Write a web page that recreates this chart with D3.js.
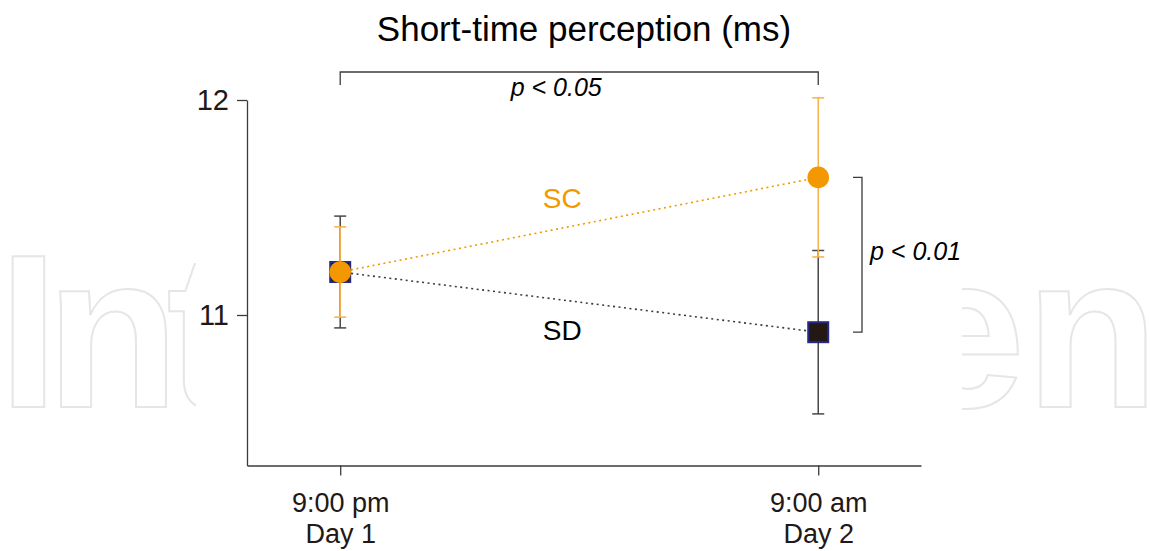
<!DOCTYPE html>
<html>
<head>
<meta charset="utf-8">
<script src="https://cdn.jsdelivr.net/npm/d3@7"></script>
<style>
  body { margin:0; background:#fff; }
  svg { display:block; font-family:"Liberation Sans", Arial, Helvetica, sans-serif; }
</style>
</head>
<body>
<svg id="graph"></svg>
<script>
// categories (x) and tick labels
let timeLabels = ["9:00 pm", "9:00 am"];
let dayLabels = ["Day 1", "Day 2"];
let yTicks = [11, 12];

// series: SC (control) and SD (sleep deprived), mean and error
let scMean = [11.20, 11.64];
let scErr = [0.21, 0.37];
let sdMean = [11.20, 10.92];
let sdErr = [0.26, 0.38];

let seriesNames = ["SC", "SD"];
let sigLabels = ["p < 0.05", "p < 0.01"];

let w = 1150;
let h = 551;

let orange = "#f39800";
let orangeBar = "#f7b04a";
let dark = "#231815";

let graph = d3.select("#graph").attr("width", w).attr("height", h);

// watermark behind the chart
let wm = graph.append("g")
    .style("font-size", "219px")
    .style("font-weight", "bold")
    .style("fill", "none")
    .style("stroke", "#e6e6e6")
    .style("stroke-width", 2);
wm.append("text").text("Int").attr("x", -2).attr("y", 407).style("letter-spacing", "-13px");
wm.append("text").text("en").attr("x", 1159).attr("y", 407).attr("text-anchor", "end");
graph.append("rect").attr("x", 196).attr("y", 0).attr("width", 766).attr("height", h).style("fill", "#fff");

// scales
let xscale = d3.scaleLinear().domain([-0.195, 1.215]).range([247, 921]);
let yscale = d3.scaleLinear().domain([10.3, 12]).range([465.5, 100]);

// axes
let yaxis = d3.axisLeft(yscale).tickValues(yTicks).tickFormat(d3.format("d"))
    .tickSize(10).tickSizeOuter(0).tickPadding(8);
let yaxisg = graph.append("g")
    .attr("transform", `translate(${xscale.range()[0]},0)`)
    .call(yaxis);
yaxisg.selectAll("text").style("font-size", "29px").style("fill", dark);

let xaxis = d3.axisBottom(xscale).tickValues([0, 1]).tickSize(10).tickSizeOuter(0).tickFormat("");
let xaxisg = graph.append("g")
    .attr("transform", `translate(0,${yscale.range()[0]})`)
    .call(xaxis);
xaxisg.selectAll(".tick").each(function(d) {
    let t = d3.select(this).append("text")
        .attr("text-anchor", "middle")
        .style("font-size", "27px")
        .style("fill", dark);
    t.append("tspan").attr("x", 0).attr("y", 46).text(timeLabels[d]);
    t.append("tspan").attr("x", 0).attr("y", 77).text(dayLabels[d]);
});
graph.selectAll(".domain, .tick line").style("stroke", "#3e3a39").style("stroke-width", 1.3);

// dotted connecting lines
let line = d3.line().x((d, i) => xscale(i)).y(d => yscale(d));
graph.append("path").datum(sdMean).attr("d", line)
    .style("fill", "none").style("stroke", "#3e3a39").style("stroke-width", 1.6).style("stroke-dasharray", "2,3.5");
graph.append("path").datum(scMean).attr("d", line)
    .style("fill", "none").style("stroke", orange).style("stroke-width", 1.6).style("stroke-dasharray", "2,3.5");

function errorBars(means, errs, color) {
    let g = graph.append("g").style("stroke", color).style("stroke-width", 1.5);
    means.forEach((m, i) => {
        let x = xscale(i);
        g.append("line").attr("x1", x).attr("x2", x).attr("y1", yscale(m + errs[i])).attr("y2", yscale(m - errs[i]));
        g.append("line").attr("x1", x - 6).attr("x2", x + 6).attr("y1", yscale(m + errs[i])).attr("y2", yscale(m + errs[i]));
        g.append("line").attr("x1", x - 6).attr("x2", x + 6).attr("y1", yscale(m - errs[i])).attr("y2", yscale(m - errs[i]));
    });
}

// SD: error bars + squares
errorBars(sdMean, sdErr, "#4a4646");
graph.append("g").selectAll("rect")
    .data(sdMean)
    .enter().append("rect")
    .attr("x", (d, i) => xscale(i) - 10)
    .attr("y", d => yscale(d) - 10)
    .attr("width", 20)
    .attr("height", 20)
    .style("fill", dark)
    .style("stroke", "#262a86")
    .style("stroke-width", 2);

// SC: error bars + circles
errorBars(scMean, scErr, orangeBar);
graph.append("g").selectAll("circle")
    .data(scMean)
    .enter().append("circle")
    .attr("cx", (d, i) => xscale(i))
    .attr("cy", d => yscale(d))
    .attr("r", 10.8)
    .style("fill", orange);

// series labels
let mid = (xscale(0) + xscale(1)) / 2;
graph.append("text").text(seriesNames[0])
    .attr("x", mid - 17).attr("y", 208).attr("text-anchor", "middle")
    .style("font-size", "28px").style("fill", orange);
graph.append("text").text(seriesNames[1])
    .attr("x", mid - 17).attr("y", 340).attr("text-anchor", "middle")
    .style("font-size", "28px").style("fill", "#000");

// significance brackets
let br = graph.append("g").style("fill", "none").style("stroke", "#3e3a39").style("stroke-width", 1.3);
br.append("path")
    .attr("d", `M${xscale(0)},85V72H${xscale(1)}V85`);
br.append("path")
    .attr("d", `M853,${yscale(scMean[1])}H862V${yscale(sdMean[1])}H853`);

graph.append("text").text(sigLabels[0])
    .attr("x", mid - 23).attr("y", 96).attr("text-anchor", "middle")
    .style("font-size", "25px").style("font-style", "italic").style("fill", "#000");
graph.append("text").text(sigLabels[1])
    .attr("x", 870).attr("y", 260)
    .style("font-size", "25px").style("font-style", "italic").style("fill", "#000");

// title
graph.append("text").text("Short-time perception (ms)")
    .attr("x", 584).attr("y", 41).attr("text-anchor", "middle")
    .style("font-size", "35px").style("fill", "#000");
</script>
</body>
</html>
